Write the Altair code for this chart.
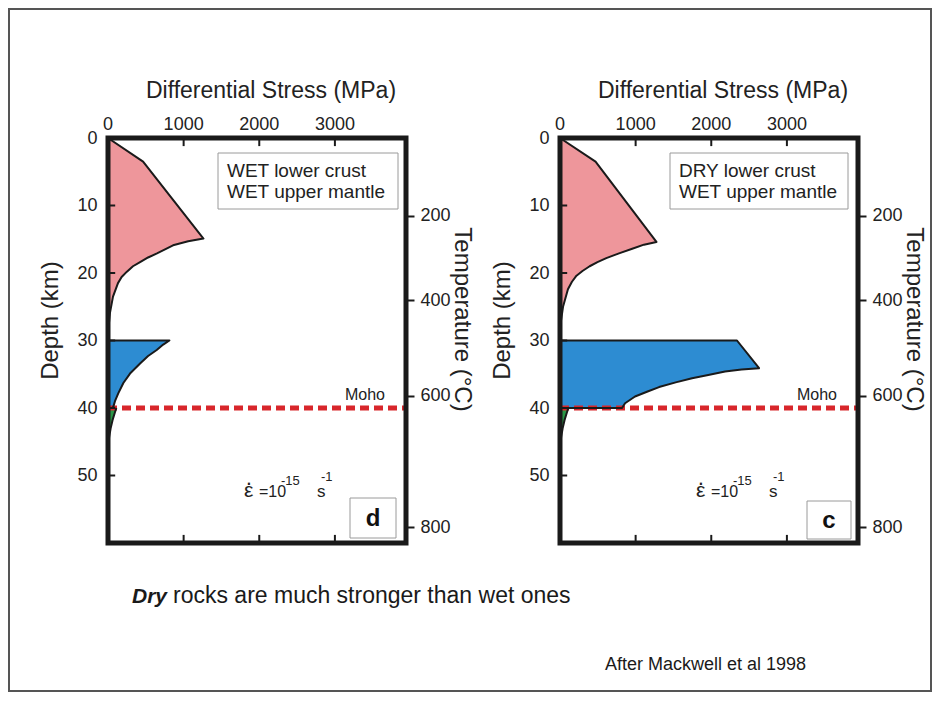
import json
import altair as alt
import pandas as pd

FONT = "Liberation Sans"
INK = "#1a1a1a"
TEXT = "#222222"
PINK = "#EE969B"
BLUE = "#2D8CD2"
GREEN = "#2A9646"
RED = "#D8262B"

X_MAX = 3940
D_MAX = 60
W, H = 298, 405

# ---------------- data ----------------
STRESS_TICKS = [0, 1000, 2000, 3000]
INNER_STRESS_TICKS = [1000, 2000, 3000]
DEPTH_TICKS = [0, 10, 20, 30, 40, 50]
INNER_DEPTH_TICKS = [10, 20, 30, 40, 50]
TEMP_LABELS = [200, 400, 600, 800]
TEMP_DEPTHS = [11.5, 24.0, 38.2, 57.7]
MOHO_DEPTH = 40

# panel d : WET lower crust / WET upper mantle
D_PINK_STRESS = [0, 464, 1262, 1060, 860, 648, 530, 424, 330, 250, 180, 132, 66, 26, 8, 0]
D_PINK_DEPTH = [0, 3.5, 14.9, 15.3, 15.9, 17.1, 17.7, 18.4, 19.0, 19.8, 20.6, 21.5, 23.5, 25.9, 28.0, 30.0]
D_BLUE_STRESS = [812, 730, 644, 530, 424, 291, 203, 137, 95, 71, 55]
D_BLUE_DEPTH = [30.0, 30.6, 31.4, 32.3, 33.4, 34.9, 36.3, 37.8, 38.9, 39.8, 40.0]
D_GREEN_STRESS = [110, 90, 60, 35, 15, 3, 0]
D_GREEN_DEPTH = [40.0, 40.7, 41.8, 43.0, 44.3, 45.5, 46.3]

# panel c : DRY lower crust / WET upper mantle
C_PINK_STRESS = [0, 470, 1275, 1110, 955, 780, 612, 495, 392, 297, 218, 158, 105, 40, 9, 0]
C_PINK_DEPTH = [0, 3.5, 15.4, 15.8, 16.4, 17.1, 17.8, 18.4, 19.0, 19.7, 20.4, 21.3, 22.4, 25.0, 27.4, 30.0]
C_BLUE_STRESS = [2340, 2632, 2400, 2183, 1960, 1746, 1530, 1310, 1150, 992, 860, 820]
C_BLUE_DEPTH = [30.0, 34.1, 34.3, 34.6, 35.1, 35.6, 36.2, 36.9, 37.6, 38.3, 39.3, 40.0]
C_GREEN_STRESS = [110, 90, 60, 35, 15, 3, 0]
C_GREEN_DEPTH = [40.0, 40.7, 41.8, 43.0, 44.3, 45.5, 46.3]

ONE = pd.DataFrame({"k": [0]})
XS = alt.Scale(domain=[0, X_MAX], nice=False, zero=True)
YS = alt.Scale(domain=[0, D_MAX], reverse=True, nice=False)
TICK_LEN_KM = 1.2
TICK_LEN_MPA = 95


def frame(stress, depth, shape):
    return pd.DataFrame({"stress": stress, "depth": depth,
                         "order": list(range(len(stress))), "shape": shape})


def fx():
    return alt.X("stress:Q", scale=XS, axis=None)


def fy():
    return alt.Y("depth:Q", scale=YS, axis=None)


def txt(s, x, y, size, align="left", baseline="alphabetic", weight="normal",
        style="normal", color=TEXT):
    return alt.Chart(ONE).mark_text(
        text=s, align=align, baseline=baseline, fontSize=size, fontWeight=weight,
        fontStyle=style, font=FONT, color=color
    ).encode(x=alt.value(x), y=alt.value(y))


def box(x1, y1, x2, y2, stroke="#9a9a9a", width=1, opacity=1):
    return alt.Chart(ONE).mark_rect(fill="white", fillOpacity=opacity, stroke=stroke,
                                    strokeWidth=width).encode(
        x=alt.value(x1), x2=alt.value(x2), y=alt.value(y1), y2=alt.value(y2))


temp_expr = "{}[indexof({}, datum.value)]".format(
    json.dumps([str(t) for t in TEMP_LABELS]), json.dumps(TEMP_DEPTHS))

LEFT_AXIS = alt.Axis(
    orient="left", values=DEPTH_TICKS, ticks=False, domain=False, grid=False,
    labelFlush=False, labelFont=FONT, labelFontSize=18, labelColor=TEXT,
    labelPadding=11,
    title="Depth (km)", titleFont=FONT, titleFontSize=24, titleFontWeight="normal",
    titleColor=TEXT, titleX=-46, titleY=182, titleAlign="center")

RIGHT_AXIS = alt.Axis(
    orient="right", values=TEMP_DEPTHS, labelExpr=temp_expr, ticks=True,
    tickSize=8, tickWidth=2, tickColor=INK, domain=False, grid=False,
    labelFlush=False, labelFont=FONT, labelFontSize=18, labelColor=TEXT,
    labelPadding=6,
    title="Temperature (°C)", titleFont=FONT, titleFontSize=24,
    titleFontWeight="normal", titleColor=TEXT, titleX=43, titleY=181,
    titleAlign="center")

# bottom-oriented stress axis pulled up to the top edge: its outward ticks hang
# down into the frame, like the inward ticks of the original
TOP_TICK_AXIS = alt.Axis(
    orient="bottom", offset=-H, values=INNER_STRESS_TICKS, labels=False, ticks=True,
    tickSize=8, tickWidth=2, tickColor=INK, domain=False, grid=False, title=None,
    zindex=2)


def panel(pink_s, pink_d, blue_s, blue_d, green_s, green_d, line1, line2,
          letter, lbox, legend_right, extra=()):
    pink = frame(pink_s, pink_d, "pink")
    blue = frame(blue_s, blue_d, "blue")
    green = frame(green_s, green_d, "green")
    blue_outline = frame([0] + blue_s + [0], [30.0] + blue_d + [40.0], "blue")
    parts = [pink, blue_outline, green]
    # top inner tick segments, drawn as extra paths of the outline layer
    for i, s in enumerate(INNER_STRESS_TICKS):
        parts.append(frame([s, s], [0.0, TICK_LEN_KM], "tick%d" % i))
    outline_df = pd.concat(parts, ignore_index=True)

    bt = pd.DataFrame({"s": INNER_STRESS_TICKS,
                       "a": [D_MAX] * len(INNER_STRESS_TICKS),
                       "b": [D_MAX - TICK_LEN_KM] * len(INNER_STRESS_TICKS)})
    yt = pd.DataFrame({"d": INNER_DEPTH_TICKS, "a": [0] * len(INNER_DEPTH_TICKS),
                       "b": [TICK_LEN_MPA] * len(INNER_DEPTH_TICKS)})
    lab = pd.DataFrame({"s": STRESS_TICKS, "label": [str(v) for v in STRESS_TICKS]})

    layers = list(extra)
    for df, col in [(pink, PINK), (blue, BLUE), (green, GREEN)]:
        layers.append(alt.Chart(df).mark_area(orient="horizontal", color=col, opacity=1)
                      .encode(x=fx(), y=fy()))
    layers.append(alt.Chart(ONE).mark_rule(color=RED, strokeWidth=5, strokeDash=[9, 5])
                  .encode(x=alt.XDatum(0, scale=XS, axis=None), x2=alt.X2Datum(X_MAX),
                          y=alt.YDatum(MOHO_DEPTH, scale=YS, axis=None)))
    # inner ticks and axes
    layers.append(alt.Chart(bt).mark_rule(color=INK, strokeWidth=2)
                  .encode(x=alt.X("s:Q", scale=XS, axis=TOP_TICK_AXIS),
                          y=alt.Y("a:Q", scale=YS, axis=None), y2="b:Q"))
    layers.append(alt.Chart(yt).mark_rule(color=INK, strokeWidth=2)
                  .encode(y=alt.Y("d:Q", scale=YS, axis=LEFT_AXIS),
                          x=alt.X("a:Q", scale=XS, axis=None), x2="b:Q"))
    layers.append(alt.Chart(pd.DataFrame({"t": TEMP_DEPTHS})).mark_point(opacity=0)
                  .encode(y=alt.Y("t:Q", scale=YS, axis=RIGHT_AXIS),
                          x=alt.XDatum(X_MAX, scale=XS, axis=None)))
    # stress tick labels and title (top)
    layers.append(alt.Chart(lab).mark_text(font=FONT, fontSize=18, color=TEXT,
                                           baseline="alphabetic", align="center")
                  .encode(x=alt.X("s:Q", scale=XS, axis=None), y=alt.value(-8),
                          text="label:N"))
    layers.append(txt("Differential Stress (MPa)", 163, -40, 23, align="center"))
    # legend box
    layers.append(box(110, 15, legend_right, 71))
    layers.append(txt(line1, 119, 39, 19))
    layers.append(txt(line2, 119, 60, 19))
    # Moho
    layers.append(txt("Moho", 277, 257, 16, align="right", baseline="middle"))
    # strain rate
    layers.append(txt("ε", 136, 359, 21))
    layers.append(txt("·", 141, 345, 22, align="center", baseline="middle"))
    layers.append(txt("=10", 151, 359, 16))
    layers.append(txt("-15", 173, 347, 13))
    layers.append(txt("s", 209, 359, 17))
    layers.append(txt("-1", 213, 343, 13))
    # panel letter
    x1, y1, x2, y2 = lbox
    layers.append(box(x1, y1, x2, y2))
    layers.append(txt(letter, (x1 + x2) / 2, (y1 + y2) / 2 + 1, 24, align="center",
                      baseline="middle", weight="bold", color="#111"))
    # frame
    layers.append(alt.Chart(ONE).mark_rect(fillOpacity=0, stroke=INK, strokeWidth=5)
                  .encode(x=alt.XDatum(0, scale=XS, axis=None), x2=alt.X2Datum(X_MAX),
                          y=alt.YDatum(0, scale=YS, axis=None), y2=alt.Y2Datum(D_MAX)))
    # outlines of the strength envelopes (and top tick segments), on top
    layers.append(alt.Chart(outline_df).mark_line(color=INK, strokeWidth=2, strokeJoin="round")
                  .encode(x=fx(), y=fy(), detail="shape:N", order="order:Q"))
    return alt.layer(*layers).resolve_axis(y="independent").properties(width=W, height=H)


extras = [
    box(-99, -129, 823, 553, stroke="#555555", width=2, opacity=0),
    txt("Dry", 24, 465, 21, weight="bold", style="italic", color="#1a1a1a"),
    txt("rocks are much stronger than wet ones", 65, 465, 23, color="#1a1a1a"),
    txt("After Mackwell et al 1998", 497, 532, 18, color="#1a1a1a"),
]

left = panel(D_PINK_STRESS, D_PINK_DEPTH, D_BLUE_STRESS, D_BLUE_DEPTH,
             D_GREEN_STRESS, D_GREEN_DEPTH, "WET lower crust", "WET upper mantle",
             "d", (242, 360, 288, 400), 290, extra=extras)
right = panel(C_PINK_STRESS, C_PINK_DEPTH, C_BLUE_STRESS, C_BLUE_DEPTH,
              C_GREEN_STRESS, C_GREEN_DEPTH, "DRY lower crust", "WET upper mantle",
              "c", (247, 363, 291, 401), 288)

chart = alt.hconcat(left, right, spacing=154, bounds="flush", padding=0).configure_view(
    strokeWidth=0)

chart.save("out.html", embed_options={"renderer": "svg", "actions": False})
